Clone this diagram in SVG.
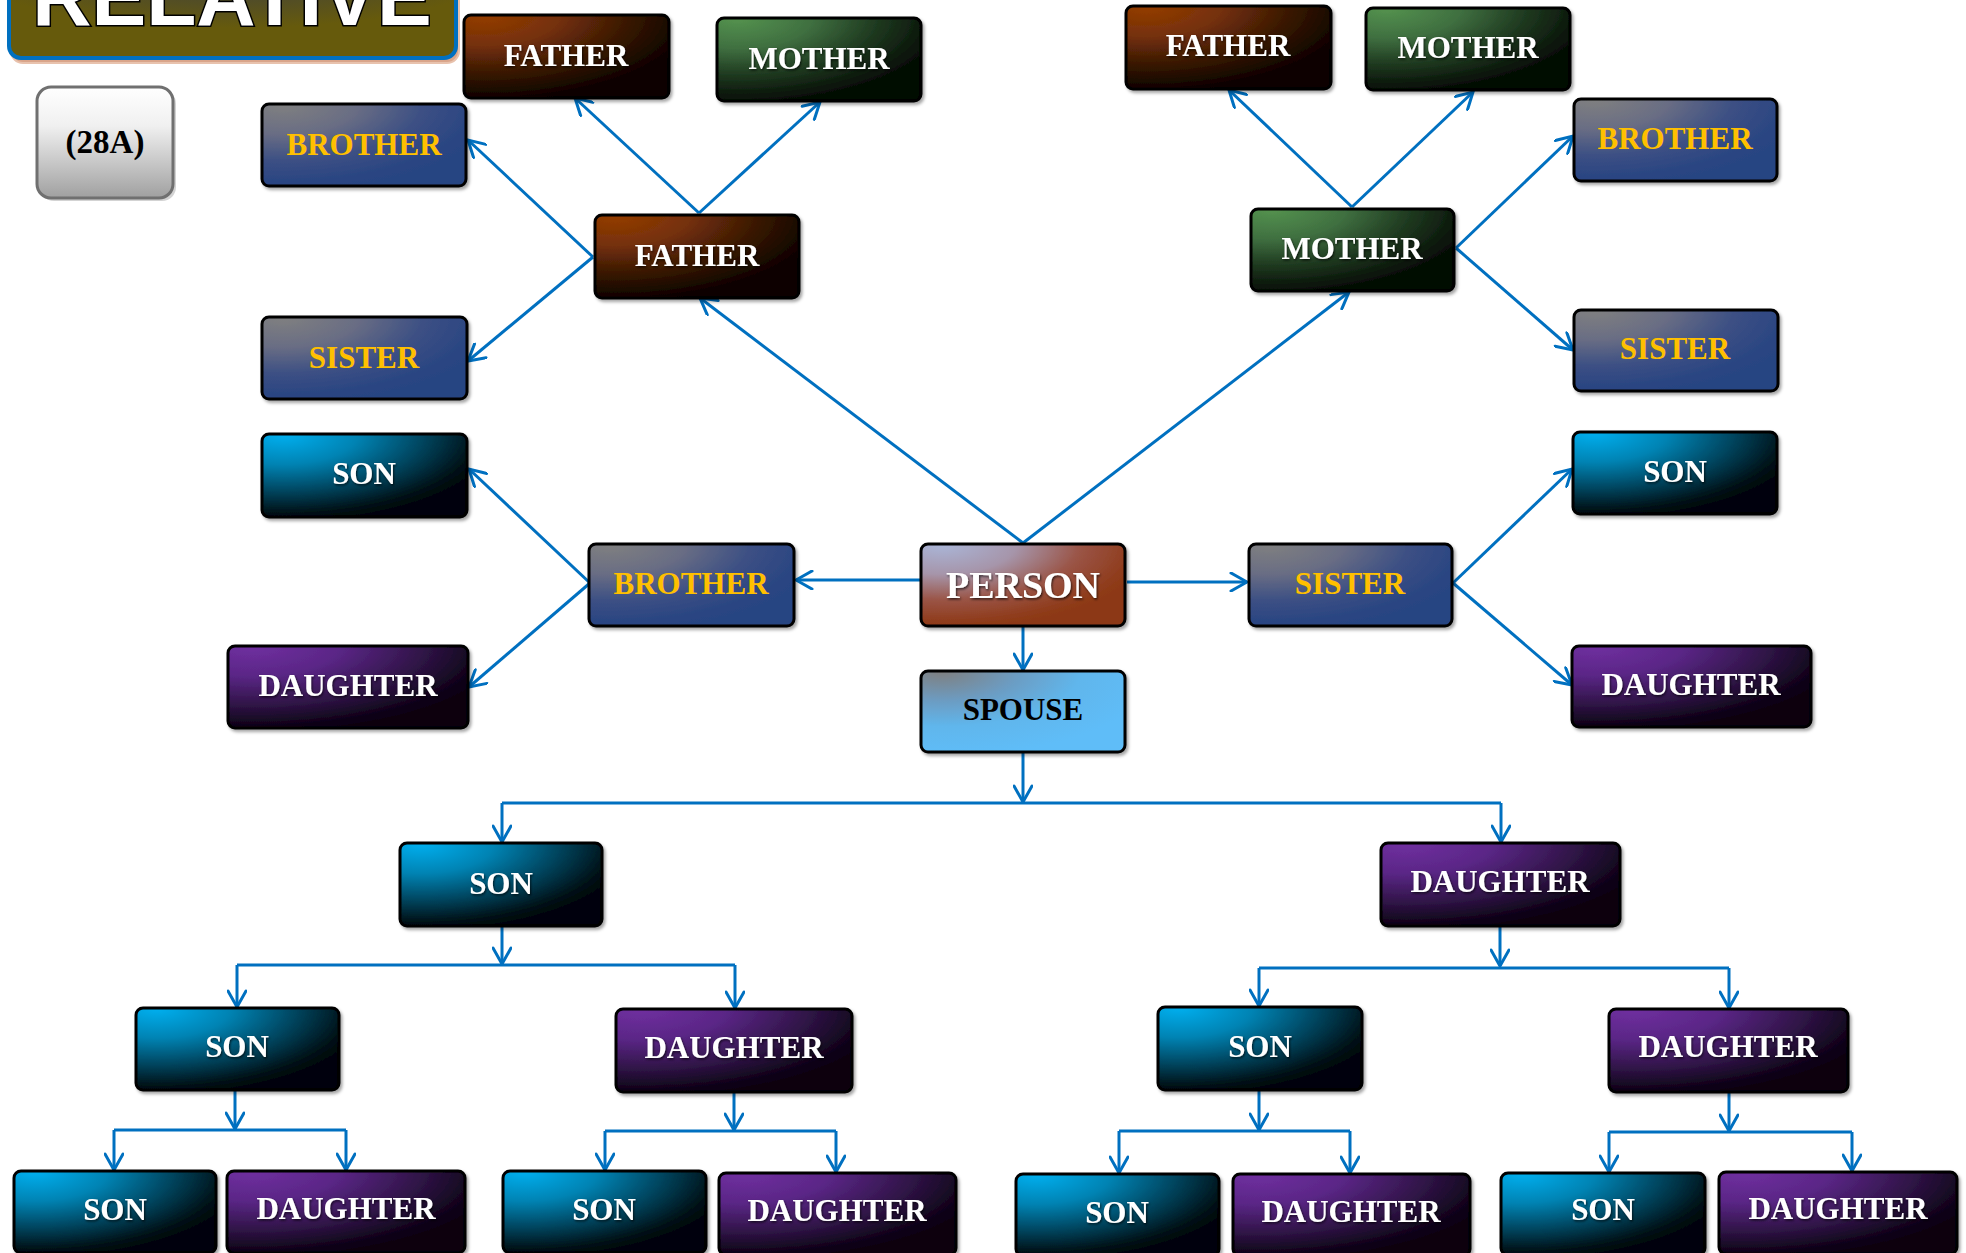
<svg xmlns="http://www.w3.org/2000/svg" width="1966" height="1253" viewBox="0 0 1966 1253">
  <defs>
    <style>
      .box { stroke: #000; stroke-width: 3; filter: url(#boxShadow); }
      .lbl { font-family: "Liberation Serif", "DejaVu Serif", serif; font-weight: bold; font-size: 31px; text-anchor: middle; }
      .big { font-size: 38px; }
      .w { fill: #ffffff; filter: url(#txtShadow); }
      .y { fill: #ffc000; }
      .k { fill: #000000; }
      .con { fill: none; stroke: #0070c0; stroke-width: 3; }
      .arw { marker-end: url(#arrow); }
    </style>
    <filter id="boxShadow" x="-10%" y="-10%" width="125%" height="135%">
      <feDropShadow dx="2" dy="2.5" stdDeviation="1.5" flood-color="#000" flood-opacity="0.35"/>
    </filter>
    <filter id="txtShadow" x="-10%" y="-20%" width="120%" height="150%">
      <feDropShadow dx="1" dy="1.5" stdDeviation="1" flood-color="#000" flood-opacity="0.7"/>
    </filter>
    <marker id="arrow" viewBox="0 0 20 20" refX="18" refY="10" markerWidth="20" markerHeight="20" markerUnits="userSpaceOnUse" orient="auto">
      <path d="M2,1 L18,10 L2,19" fill="none" stroke="#0070c0" stroke-width="3" stroke-linecap="round" stroke-linejoin="miter"/>
    </marker>
    <!-- node fills: bright at top-left corner, fading to dark towards the right -->
    <radialGradient id="gFather" cx="0.1" cy="0" r="1.05">
      <stop offset="0" stop-color="#953d00"/>
      <stop offset="0.35" stop-color="#74300a"/>
      <stop offset="0.65" stop-color="#3c1904"/>
      <stop offset="0.9" stop-color="#150600"/>
      <stop offset="1" stop-color="#0c0300"/>
    </radialGradient>
    <radialGradient id="gMother" cx="0.1" cy="0" r="1.05">
      <stop offset="0" stop-color="#55934f"/>
      <stop offset="0.35" stop-color="#3f6f40"/>
      <stop offset="0.65" stop-color="#1f3a20"/>
      <stop offset="0.9" stop-color="#0a150a"/>
      <stop offset="1" stop-color="#030803"/>
    </radialGradient>
    <radialGradient id="gSib" cx="0.1" cy="0" r="1.05">
      <stop offset="0" stop-color="#808080"/>
      <stop offset="0.35" stop-color="#696d84"/>
      <stop offset="0.65" stop-color="#3d5084"/>
      <stop offset="0.9" stop-color="#2a4582"/>
      <stop offset="1" stop-color="#284482"/>
    </radialGradient>
    <radialGradient id="gSon" cx="0.1" cy="0" r="1.05">
      <stop offset="0" stop-color="#00b0f0"/>
      <stop offset="0.35" stop-color="#0283b3"/>
      <stop offset="0.65" stop-color="#024660"/>
      <stop offset="0.9" stop-color="#001218"/>
      <stop offset="1" stop-color="#000508"/>
    </radialGradient>
    <radialGradient id="gDaughter" cx="0.1" cy="0" r="1.05">
      <stop offset="0" stop-color="#7030a0"/>
      <stop offset="0.35" stop-color="#5a2686"/>
      <stop offset="0.65" stop-color="#34164d"/>
      <stop offset="0.9" stop-color="#12051c"/>
      <stop offset="1" stop-color="#0a0210"/>
    </radialGradient>
    <radialGradient id="gPerson" cx="0.1" cy="0" r="1.05">
      <stop offset="0" stop-color="#aab6d8"/>
      <stop offset="0.35" stop-color="#a695aa"/>
      <stop offset="0.65" stop-color="#9a5446"/>
      <stop offset="0.9" stop-color="#8f3c1c"/>
      <stop offset="1" stop-color="#8c3812"/>
    </radialGradient>
    <radialGradient id="gSpouse" cx="0.1" cy="0" r="1.05">
      <stop offset="0" stop-color="#7f7f7f"/>
      <stop offset="0.35" stop-color="#6c9cc2"/>
      <stop offset="0.65" stop-color="#60b6ec"/>
      <stop offset="1" stop-color="#5fbdf8"/>
    </radialGradient>
    <linearGradient id="gTag" x1="0" y1="0" x2="0" y2="1">
      <stop offset="0" stop-color="#ffffff"/>
      <stop offset="0.35" stop-color="#f0f0f0"/>
      <stop offset="1" stop-color="#a0a0a0"/>
    </linearGradient>
    <radialGradient id="gTitle" cx="0.5" cy="0.1" r="0.6">
      <stop offset="0" stop-color="#36393d"/>
      <stop offset="0.45" stop-color="#4d4a2c"/>
      <stop offset="1" stop-color="#665a0c"/>
    </radialGradient>
  </defs>

  <rect width="1966" height="1253" fill="#ffffff"/>

  <!-- heading, its upper part runs off the top edge -->
  <g id="title">
    <rect x="11" y="-40" width="448" height="103" rx="12" fill="#d9a58a" stroke="#e8c2ad" stroke-width="2"/>
    <rect x="9" y="-42" width="447" height="100" rx="12" fill="url(#gTitle)" stroke="#0070c0" stroke-width="4"/>
    <text x="232" y="25" font-family="Liberation Sans, Arial, sans-serif" font-weight="bold" font-size="82" text-anchor="middle" fill="#ffffff" stroke="#000" stroke-width="3" paint-order="stroke fill">RELATIVE</text>
  </g>

  <g id="tag">
    <rect x="40" y="90" width="136" height="111" rx="14" fill="#c8c8c8" opacity="0.8"/>
    <rect x="37" y="87" width="136" height="111" rx="14" fill="url(#gTag)" stroke="#707070" stroke-width="3"/>
    <text x="105" y="153" font-family="Liberation Serif, DejaVu Serif, serif" font-weight="bold" font-size="33" text-anchor="middle" fill="#000">(28A)</text>
  </g>

  <!-- connectors -->
  <g id="connectors" class="con">
    <!-- paternal side -->
    <line class="arw" x1="699" y1="213" x2="575" y2="98"/>
    <line class="arw" x1="699" y1="213" x2="820" y2="102"/>
    <line class="arw" x1="593" y1="257" x2="468" y2="140"/>
    <line class="arw" x1="593" y1="257" x2="468" y2="361"/>
    <!-- maternal side -->
    <line class="arw" x1="1352" y1="207" x2="1229" y2="90"/>
    <line class="arw" x1="1352" y1="207" x2="1473" y2="92"/>
    <line class="arw" x1="1456" y1="248" x2="1573" y2="136"/>
    <line class="arw" x1="1456" y1="248" x2="1573" y2="350"/>
    <!-- person to parents and siblings -->
    <line class="arw" x1="1023" y1="543" x2="700" y2="298"/>
    <line class="arw" x1="1023" y1="543" x2="1349" y2="292"/>
    <line class="arw" x1="921" y1="580" x2="796" y2="580"/>
    <line class="arw" x1="1127" y1="582" x2="1247" y2="582"/>
    <!-- nephews and nieces -->
    <line class="arw" x1="590" y1="583" x2="469" y2="469"/>
    <line class="arw" x1="590" y1="583" x2="469" y2="687"/>
    <line class="arw" x1="1453" y1="583" x2="1572" y2="469"/>
    <line class="arw" x1="1453" y1="583" x2="1572" y2="685"/>
    <!-- spouse and children -->
    <line class="arw" x1="1023" y1="626" x2="1023" y2="670"/>
    <line class="arw" x1="1023" y1="752" x2="1023" y2="802"/>
    <polyline points="502,803 1501,803"/>
    <line class="arw" x1="502" y1="803" x2="502" y2="842"/>
    <line class="arw" x1="1501" y1="803" x2="1501" y2="842"/>
    <!-- grandchildren -->
    <line class="arw" x1="502" y1="926" x2="502" y2="964"/>
    <polyline points="237,965 735,965"/>
    <line class="arw" x1="237" y1="965" x2="237" y2="1007"/>
    <line class="arw" x1="735" y1="965" x2="735" y2="1008"/>
    <line class="arw" x1="1500" y1="926" x2="1500" y2="966"/>
    <polyline points="1259,968 1729,968"/>
    <line class="arw" x1="1259" y1="968" x2="1259" y2="1006"/>
    <line class="arw" x1="1729" y1="968" x2="1729" y2="1008"/>
    <!-- great-grandchildren -->
    <line class="arw" x1="235" y1="1090" x2="235" y2="1129"/>
    <polyline points="114,1130 346,1130"/>
    <line class="arw" x1="114" y1="1130" x2="114" y2="1170"/>
    <line class="arw" x1="346" y1="1130" x2="346" y2="1170"/>
    <line class="arw" x1="734" y1="1092" x2="734" y2="1130"/>
    <polyline points="605,1131 836,1131"/>
    <line class="arw" x1="605" y1="1131" x2="605" y2="1170"/>
    <line class="arw" x1="836" y1="1131" x2="836" y2="1172"/>
    <line class="arw" x1="1259" y1="1090" x2="1259" y2="1130"/>
    <polyline points="1119,1131 1350,1131"/>
    <line class="arw" x1="1119" y1="1131" x2="1119" y2="1173"/>
    <line class="arw" x1="1350" y1="1131" x2="1350" y2="1173"/>
    <line class="arw" x1="1729" y1="1092" x2="1729" y2="1131"/>
    <polyline points="1609,1132 1852,1132"/>
    <line class="arw" x1="1609" y1="1132" x2="1609" y2="1172"/>
    <line class="arw" x1="1852" y1="1132" x2="1852" y2="1171"/>
  </g>

  <!-- upper left: father's family -->
  <g id="n-father-father"><rect class="box" x="464" y="15" width="205" height="83" rx="7" fill="url(#gFather)"/><text class="lbl w" x="566" y="66">FATHER</text></g>
  <g id="n-father-mother"><rect class="box" x="717" y="18" width="204" height="83" rx="7" fill="url(#gMother)"/><text class="lbl w" x="819" y="69">MOTHER</text></g>
  <g id="n-father-brother"><rect class="box" x="262" y="104" width="204" height="82" rx="7" fill="url(#gSib)"/><text class="lbl y" x="364" y="155">BROTHER</text></g>
  <g id="n-father"><rect class="box" x="595" y="215" width="204" height="83" rx="7" fill="url(#gFather)"/><text class="lbl w" x="697" y="266">FATHER</text></g>
  <g id="n-father-sister"><rect class="box" x="262" y="317" width="205" height="82" rx="7" fill="url(#gSib)"/><text class="lbl y" x="364" y="368">SISTER</text></g>

  <!-- upper right: mother's family -->
  <g id="n-mother-father"><rect class="box" x="1126" y="6" width="205" height="83" rx="7" fill="url(#gFather)"/><text class="lbl w" x="1228" y="56">FATHER</text></g>
  <g id="n-mother-mother"><rect class="box" x="1366" y="8" width="204" height="82" rx="7" fill="url(#gMother)"/><text class="lbl w" x="1468" y="58">MOTHER</text></g>
  <g id="n-mother-brother"><rect class="box" x="1574" y="99" width="203" height="82" rx="7" fill="url(#gSib)"/><text class="lbl y" x="1675" y="149">BROTHER</text></g>
  <g id="n-mother"><rect class="box" x="1251" y="209" width="203" height="82" rx="7" fill="url(#gMother)"/><text class="lbl w" x="1352" y="259">MOTHER</text></g>
  <g id="n-mother-sister"><rect class="box" x="1574" y="310" width="204" height="81" rx="7" fill="url(#gSib)"/><text class="lbl y" x="1675" y="359">SISTER</text></g>

  <!-- middle row -->
  <g id="n-brother-son"><rect class="box" x="262" y="434" width="205" height="83" rx="7" fill="url(#gSon)"/><text class="lbl w" x="364" y="484">SON</text></g>
  <g id="n-brother"><rect class="box" x="589" y="544" width="205" height="82" rx="7" fill="url(#gSib)"/><text class="lbl y" x="691" y="594">BROTHER</text></g>
  <g id="n-brother-daughter"><rect class="box" x="228" y="646" width="240" height="82" rx="7" fill="url(#gDaughter)"/><text class="lbl w" x="348" y="696">DAUGHTER</text></g>
  <g id="n-person"><rect class="box" x="921" y="544" width="204" height="82" rx="7" fill="url(#gPerson)"/><text class="lbl big w" x="1023" y="598">PERSON</text></g>
  <g id="n-spouse"><rect class="box" x="921" y="671" width="204" height="81" rx="7" fill="url(#gSpouse)"/><text class="lbl k" x="1023" y="720">SPOUSE</text></g>
  <g id="n-sister"><rect class="box" x="1249" y="544" width="203" height="82" rx="7" fill="url(#gSib)"/><text class="lbl y" x="1350" y="594">SISTER</text></g>
  <g id="n-sister-son"><rect class="box" x="1573" y="432" width="204" height="82" rx="7" fill="url(#gSon)"/><text class="lbl w" x="1675" y="482">SON</text></g>
  <g id="n-sister-daughter"><rect class="box" x="1572" y="646" width="239" height="81" rx="7" fill="url(#gDaughter)"/><text class="lbl w" x="1691" y="695">DAUGHTER</text></g>

  <!-- children -->
  <g id="n-son"><rect class="box" x="400" y="843" width="202" height="83" rx="7" fill="url(#gSon)"/><text class="lbl w" x="501" y="894">SON</text></g>
  <g id="n-daughter"><rect class="box" x="1381" y="843" width="239" height="83" rx="7" fill="url(#gDaughter)"/><text class="lbl w" x="1500" y="892">DAUGHTER</text></g>

  <!-- grandchildren -->
  <g id="n-son-son"><rect class="box" x="136" y="1008" width="203" height="82" rx="7" fill="url(#gSon)"/><text class="lbl w" x="237" y="1057">SON</text></g>
  <g id="n-son-daughter"><rect class="box" x="616" y="1009" width="236" height="83" rx="7" fill="url(#gDaughter)"/><text class="lbl w" x="734" y="1058">DAUGHTER</text></g>
  <g id="n-daughter-son"><rect class="box" x="1158" y="1007" width="204" height="83" rx="7" fill="url(#gSon)"/><text class="lbl w" x="1260" y="1057">SON</text></g>
  <g id="n-daughter-daughter"><rect class="box" x="1609" y="1009" width="239" height="83" rx="7" fill="url(#gDaughter)"/><text class="lbl w" x="1728" y="1057">DAUGHTER</text></g>

  <!-- great-grandchildren -->
  <g id="n-ss-son"><rect class="box" x="14" y="1171" width="202" height="82" rx="7" fill="url(#gSon)"/><text class="lbl w" x="115" y="1220">SON</text></g>
  <g id="n-ss-daughter"><rect class="box" x="227" y="1171" width="238" height="82" rx="7" fill="url(#gDaughter)"/><text class="lbl w" x="346" y="1219">DAUGHTER</text></g>
  <g id="n-sd-son"><rect class="box" x="503" y="1171" width="203" height="82" rx="7" fill="url(#gSon)"/><text class="lbl w" x="604" y="1220">SON</text></g>
  <g id="n-sd-daughter"><rect class="box" x="719" y="1173" width="237" height="82" rx="7" fill="url(#gDaughter)"/><text class="lbl w" x="837" y="1221">DAUGHTER</text></g>
  <g id="n-ds-son"><rect class="box" x="1016" y="1174" width="203" height="82" rx="7" fill="url(#gSon)"/><text class="lbl w" x="1117" y="1223">SON</text></g>
  <g id="n-ds-daughter"><rect class="box" x="1233" y="1174" width="237" height="82" rx="7" fill="url(#gDaughter)"/><text class="lbl w" x="1351" y="1222">DAUGHTER</text></g>
  <g id="n-dd-son"><rect class="box" x="1501" y="1173" width="204" height="82" rx="7" fill="url(#gSon)"/><text class="lbl w" x="1603" y="1220">SON</text></g>
  <g id="n-dd-daughter"><rect class="box" x="1719" y="1172" width="238" height="82" rx="7" fill="url(#gDaughter)"/><text class="lbl w" x="1838" y="1219">DAUGHTER</text></g>
</svg>
